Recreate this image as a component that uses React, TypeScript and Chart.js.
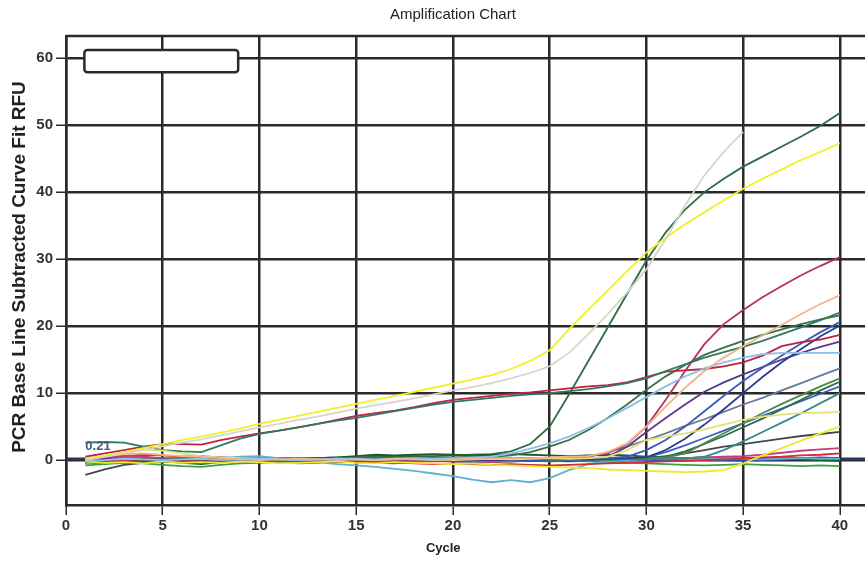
import React, { useEffect, useRef } from "react";
import { Chart, registerables } from "chart.js";

Chart.register(...registerables);

const cycles = [1, 2, 3, 4, 5, 6, 7, 8, 9, 10, 11, 12, 13, 14, 15, 16, 17, 18, 19, 20, 21, 22, 23, 24, 25, 26, 27, 28, 29, 30, 31, 32, 33, 34, 35, 36, 37, 38, 39, 40];
const xTickValues = [0, 5, 10, 15, 20, 25, 30, 35, 40];
const yTickValues = [0, 10, 20, 30, 40, 50, 60];

const chartTitle = "Amplification Chart";
const xTitle = "Cycle";
const yTitle = "PCR Base Line Subtracted Curve Fit RFU";
const threshold = 0.21;
const thresholdLabel = "0.21";

const yellowMain = [0.2, 0.7, 1.2, 1.8, 2.4, 3.0, 3.5, 4.1, 4.7, 5.4, 6.0, 6.6, 7.2, 7.8, 8.4, 9.0, 9.6, 10.2, 10.8, 11.4, 12.0, 12.7, 13.6, 14.8, 16.4, 19.5, 22.5, 25.3, 28.2, 31.0, 33.2, 35.2, 37.0, 38.8, 40.5, 42.0, 43.4, 44.8, 46.0, 47.3];
const grayLate = [0.0, 0.5, 1.0, 1.5, 2.1, 2.6, 3.1, 3.7, 4.3, 4.9, 5.4, 6.0, 6.5, 7.1, 7.7, 8.2, 8.7, 9.2, 9.8, 10.4, 10.9, 11.5, 12.2, 13.0, 14.0, 16.0, 18.8, 21.8, 25.0, 28.5, 33.0, 38.0, 42.5, 46.0, 49.0, null, null, null, null, null];
const greenSteep = [-0.3, -0.2, 0.0, 0.2, -0.1, -0.3, -0.2, 0.1, 0.2, 0.1, 0.3, 0.2, 0.3, 0.4, 0.4, 0.5, 0.5, 0.6, 0.6, 0.7, 0.8, 0.9, 1.3, 2.4, 5.0, 9.8, 14.8, 19.8, 24.8, 29.8, 34.0, 37.4, 40.0, 42.0, 43.8, 45.3, 46.8, 48.3, 49.9, 51.8];
const redLinear = [0.5, 1.0, 1.5, 2.0, 2.4, 2.4, 2.3, 3.0, 3.5, 4.0, 4.4, 4.9, 5.4, 6.0, 6.6, 7.0, 7.4, 7.9, 8.5, 9.0, 9.3, 9.6, 9.9, 10.1, 10.4, 10.7, 11.0, 11.2, 11.6, 12.4, 13.2, 13.4, 13.6, 14.0, 14.6, 15.6, 17.0, 17.6, 18.0, 18.7];
const tealLinear = [2.6, 2.7, 2.6, 2.0, 1.5, 1.3, 1.2, 2.2, 3.2, 3.9, 4.4, 4.9, 5.4, 5.9, 6.3, 6.8, 7.3, 7.8, 8.3, 8.7, 9.0, 9.3, 9.6, 9.8, 10.0, 10.3, 10.6, 11.0, 11.5, 12.2, 13.3, 14.3, 15.3, 16.1, 16.9, 17.8, 18.8, 19.8, 20.9, 22.0];
const magentaRise = [0.0, 0.1, -0.1, 0.2, 0.0, -0.2, 0.1, 0.0, 0.1, 0.2, 0.0, -0.1, 0.0, 0.1, 0.0, -0.1, 0.1, 0.0, 0.1, 0.0, 0.2, 0.1, 0.2, 0.3, 0.3, 0.4, 0.6, 1.0, 2.4, 5.0, 9.0, 13.3, 17.3, 20.3, 22.4, 24.3, 26.0, 27.6, 29.0, 30.3];
const peachRise = [0.3, 0.6, 0.9, 1.0, 0.8, 0.6, 0.5, 0.3, 0.1, 0.0, 0.1, 0.2, 0.1, 0.0, 0.1, 0.0, 0.2, 0.1, 0.0, 0.1, 0.2, 0.2, 0.3, 0.3, 0.4, 0.5, 0.6, 1.2, 2.5, 5.0, 8.0, 10.8, 13.3, 15.3, 17.0, 18.6, 20.2, 21.8, 23.3, 24.6];
const greenRise = [0.1, 0.0, -0.2, 0.0, 0.1, 0.0, -0.1, 0.1, 0.2, 0.1, 0.0, 0.2, 0.1, 0.2, 0.3, 0.2, 0.3, 0.3, 0.4, 0.4, 0.5, 0.5, 0.7, 1.2, 2.0, 3.0, 4.5, 6.3, 8.3, 10.5, 12.5, 14.2, 15.7, 16.8, 17.8, 18.7, 19.5, 20.3, 21.0, 21.6];
const lightBlueRise = [-0.1, 0.0, 0.2, 0.1, 0.0, 0.1, 0.2, 0.0, 0.1, 0.2, 0.1, 0.0, 0.1, 0.2, 0.2, 0.1, 0.2, 0.3, 0.2, 0.3, 0.4, 0.5, 1.0, 1.7, 2.5, 3.5, 4.8, 6.2, 7.8, 9.4, 11.0, 12.5, 13.7, 14.6, 15.3, 15.8, 16.0, 16.0, 16.0, 16.0];
const blueRise = [0.0, -0.2, -0.1, 0.1, 0.0, -0.1, 0.1, 0.2, 0.0, -0.1, 0.0, 0.1, 0.0, -0.2, -0.1, 0.0, 0.1, 0.0, -0.1, 0.0, 0.1, 0.2, 0.1, 0.0, 0.1, 0.2, 0.2, 0.3, 0.5, 1.5, 3.0, 5.0, 7.3, 9.6, 11.8, 13.8, 15.6, 17.4, 19.1, 20.6];
const navyRise = [-0.2, 0.0, 0.1, 0.0, -0.1, 0.0, 0.1, 0.0, -0.1, 0.0, 0.1, 0.2, 0.1, 0.0, -0.1, 0.0, 0.1, 0.0, 0.1, 0.2, 0.1, 0.0, 0.1, 0.0, 0.1, 0.2, 0.1, 0.2, 0.3, 0.4, 1.5, 3.2, 5.3, 7.6, 10.0, 12.4, 14.6, 16.6, 18.5, 20.1];
const purpleRise = [0.1, 0.2, 0.0, -0.1, 0.0, 0.1, 0.0, -0.1, 0.0, 0.1, 0.0, -0.1, -0.2, -0.1, 0.0, 0.1, 0.0, 0.1, 0.0, -0.1, 0.0, 0.1, 0.0, 0.1, 0.2, 0.1, 0.2, 0.5, 2.0, 4.2, 6.3, 8.3, 10.2, 11.6, 12.8, 13.9, 15.0, 16.0, 16.9, 17.7];
const slateRise = [0.0, 0.1, 0.2, 0.1, 0.0, -0.1, 0.0, 0.1, 0.0, 0.1, 0.2, 0.1, 0.0, 0.1, 0.0, -0.1, 0.0, 0.1, 0.2, 0.1, 0.0, 0.1, 0.2, 0.1, 0.2, 0.3, 0.5, 1.2, 2.0, 3.0, 4.0, 5.1, 6.1, 7.2, 8.3, 9.3, 10.4, 11.5, 12.6, 13.7];
const greenRise2 = [-0.1, 0.0, 0.1, 0.0, -0.2, -0.1, 0.0, 0.1, 0.0, -0.1, 0.0, 0.1, 0.0, 0.1, 0.2, 0.1, 0.0, 0.1, 0.0, -0.1, 0.0, 0.1, 0.0, 0.1, 0.0, 0.1, 0.2, 0.1, 0.2, 0.3, 0.4, 1.0, 2.5, 4.0, 5.5, 7.0, 8.4, 9.7, 11.0, 12.2];
const greenRise3 = [0.2, 0.1, 0.0, -0.1, 0.0, 0.1, 0.2, 0.1, 0.0, 0.1, 0.0, -0.1, 0.0, 0.1, 0.0, 0.1, 0.2, 0.1, 0.0, 0.1, 0.2, 0.1, 0.0, 0.1, 0.2, 0.1, 0.2, 0.3, 0.2, 0.3, 0.5, 1.3, 2.4, 3.6, 4.9, 6.2, 7.6, 9.0, 10.4, 11.7];
const blueRise2 = [-0.1, -0.2, -0.1, 0.0, 0.1, 0.0, -0.1, 0.0, 0.1, 0.0, -0.1, -0.2, -0.1, 0.0, 0.1, 0.0, -0.1, 0.0, 0.1, 0.0, 0.1, 0.0, 0.1, 0.2, 0.1, 0.0, 0.1, 0.2, 0.3, 0.4, 1.2, 2.2, 3.3, 4.4, 5.5, 6.6, 7.7, 8.8, 9.9, 11.0];
const tealRise = [0.1, 0.0, -0.1, 0.0, 0.1, 0.2, 0.1, 0.0, 0.1, 0.0, -0.1, 0.0, 0.1, 0.0, 0.1, 0.2, 0.1, 0.0, -0.1, 0.0, 0.1, 0.0, 0.1, 0.0, -0.1, 0.0, 0.1, 0.0, 0.1, 0.2, 0.1, 0.2, 0.5, 1.5, 2.8, 4.2, 5.6, 7.0, 8.5, 10.0];
const paleYellowRise = [0.2, 0.6, 1.2, 1.6, 1.4, 1.0, 0.6, 0.4, 0.3, 0.2, 0.1, 0.0, 0.1, 0.2, 0.1, 0.0, 0.1, 0.2, 0.1, 0.0, 0.1, 0.2, 0.1, 0.2, 0.3, 0.2, 0.3, 0.5, 1.5, 3.0, 3.5, 4.0, 4.6, 5.3, 6.0, 6.5, 6.8, 7.0, 7.1, 7.2];
const yellowRise = [-0.2, -0.4, -0.3, -0.5, -0.2, -0.4, -0.3, -0.4, -0.2, -0.3, -0.5, -0.4, -0.3, -0.2, -0.4, -0.5, -0.3, -0.4, -0.5, -0.6, -0.5, -0.7, -0.8, -0.9, -1.0, -1.1, -1.2, -1.4, -1.5, -1.6, -1.7, -1.8, -1.7, -1.5, -0.5, 0.7, 1.8, 2.9, 4.0, 5.0];
const darkGrayRise = [-2.2, -1.4, -0.7, -0.4, -0.2, -0.3, -0.1, 0.0, -0.2, -0.1, 0.0, 0.1, 0.0, -0.1, 0.0, 0.1, 0.2, 0.1, 0.0, -0.1, 0.0, 0.1, 0.0, -0.1, -0.2, -0.1, 0.0, 0.1, 0.2, 0.3, 0.6, 1.0, 1.5, 2.0, 2.4, 2.8, 3.2, 3.6, 3.9, 4.2];
const magentaFlat = [0.3, 0.5, 0.7, 0.5, 0.3, 0.2, 0.4, 0.3, 0.1, 0.0, -0.1, 0.0, 0.1, 0.0, -0.2, -0.1, 0.0, 0.1, 0.0, -0.1, -0.2, -0.3, -0.2, -0.1, 0.0, 0.1, 0.2, 0.1, 0.2, 0.3, 0.4, 0.3, 0.4, 0.5, 0.6, 0.8, 1.1, 1.4, 1.6, 1.8];
const redFlat = [0.2, 0.4, 0.6, 0.8, 0.7, 0.5, 0.6, 0.4, 0.3, 0.2, 0.1, 0.0, -0.1, -0.2, -0.3, -0.4, -0.3, -0.5, -0.6, -0.5, -0.6, -0.7, -0.6, -0.7, -0.8, -0.7, -0.6, -0.5, -0.4, -0.3, -0.2, -0.1, 0.0, 0.1, 0.2, 0.4, 0.5, 0.7, 0.8, 1.0];
const cyanDip = [-0.5, -0.3, 0.0, 0.2, 0.0, -0.1, 0.1, 0.3, 0.5, 0.6, 0.3, 0.0, -0.3, -0.6, -0.8, -1.0, -1.3, -1.6, -2.0, -2.4, -2.9, -3.3, -3.0, -3.3, -2.7, -1.5, -0.6, -0.2, 0.0, 0.1, 0.2, 0.1, 0.2, 0.3, 0.2, 0.1, 0.2, 0.3, 0.2, 0.2];
const navyFlat = [0.1, 0.0, -0.1, 0.2, 0.1, 0.0, 0.2, 0.3, 0.1, 0.2, 0.0, 0.1, 0.2, 0.1, 0.0, -0.1, 0.0, 0.1, 0.2, 0.1, 0.0, 0.1, 0.2, 0.3, 0.2, 0.1, 0.0, 0.1, 0.2, 0.3, 0.2, 0.1, 0.2, 0.3, 0.2, 0.1, 0.2, 0.3, 0.2, 0.3];
const blueFlat = [-0.3, -0.2, 0.0, -0.1, -0.3, -0.2, 0.0, 0.1, -0.1, -0.2, -0.3, -0.1, 0.0, -0.2, -0.3, -0.4, -0.2, -0.1, 0.0, -0.2, -0.3, -0.1, 0.0, 0.1, -0.1, -0.2, -0.1, 0.0, 0.1, 0.0, -0.1, 0.0, 0.1, 0.0, -0.1, 0.0, 0.1, 0.2, 0.1, 0.0];
const darkGreenFlat = [-0.5, -0.4, -0.3, -0.1, -0.2, -0.4, -0.6, -0.3, -0.1, 0.0, 0.2, 0.1, 0.3, 0.4, 0.6, 0.8, 0.7, 0.8, 0.9, 0.8, 0.7, 0.8, 0.9, 0.8, 0.7, 0.6, 0.7, 0.8, 0.7, 0.5, 0.4, 0.3, 0.4, 0.3, 0.2, 0.1, 0.2, 0.1, 0.0, -0.1];
const greenFlat = [-0.8, -0.6, -0.4, -0.5, -0.7, -0.9, -1.0, -0.7, -0.5, -0.4, -0.3, -0.5, -0.4, -0.2, -0.3, -0.1, 0.0, -0.2, -0.1, 0.0, -0.2, -0.3, -0.2, -0.1, 0.0, -0.1, -0.2, -0.3, -0.4, -0.5, -0.6, -0.7, -0.8, -0.7, -0.6, -0.7, -0.8, -0.9, -0.8, -0.9];
const purpleFlat = [0.0, 0.2, 0.3, 0.2, 0.1, 0.3, 0.5, 0.4, 0.2, 0.1, 0.0, -0.1, -0.2, -0.3, -0.2, -0.4, -0.5, -0.3, -0.2, -0.1, 0.0, -0.1, -0.2, -0.1, 0.0, 0.1, 0.0, -0.1, 0.0, 0.1, 0.2, 0.1, 0.0, 0.1, 0.2, 0.3, 0.2, 0.3, 0.4, 0.3];

const series = [
  { label: "A1", color: "#d6d6c8", values: grayLate },
  { label: "A2", color: "#f0f02a", values: yellowMain },
  { label: "A3", color: "#f2b48c", values: peachRise },
  { label: "A4", color: "#8ec0e8", values: lightBlueRise },
  { label: "A5", color: "#e6e070", values: paleYellowRise },
  { label: "A6", color: "#efe830", values: yellowRise },
  { label: "A7", color: "#2f7a60", values: tealLinear },
  { label: "A8", color: "#c42040", values: redLinear },
  { label: "A9", color: "#b5305e", values: magentaRise },
  { label: "A10", color: "#3a7048", values: greenRise },
  { label: "A11", color: "#3a5ab8", values: blueRise },
  { label: "A12", color: "#283c90", values: navyRise },
  { label: "A13", color: "#5a3a8a", values: purpleRise },
  { label: "A14", color: "#6a7a9a", values: slateRise },
  { label: "A15", color: "#4a8a4a", values: greenRise2 },
  { label: "A16", color: "#2e6a40", values: greenRise3 },
  { label: "A17", color: "#4060c0", values: blueRise2 },
  { label: "A18", color: "#3a8a8a", values: tealRise },
  { label: "A19", color: "#404848", values: darkGrayRise },
  { label: "A20", color: "#c04080", values: magentaFlat },
  { label: "A21", color: "#d03030", values: redFlat },
  { label: "A22", color: "#60b0d0", values: cyanDip },
  { label: "A23", color: "#40a040", values: greenFlat },
  { label: "A24", color: "#7030a0", values: purpleFlat },
  { label: "A25", color: "#1e5a30", values: darkGreenFlat },
  { label: "A26", color: "#2050c0", values: blueFlat },
  { label: "A27", color: "#1a2a80", values: navyFlat },
  { label: "A28", color: "#2e6b45", values: greenSteep },
];

const FONT = '"Liberation Sans", Arial, sans-serif';
const GRID = "#2a2a2a";

export default function App() {
  const ref = useRef<HTMLCanvasElement>(null);

  useEffect(() => {
    document.body.style.margin = "0";
    const canvas = ref.current;
    if (!canvas) return;

    const decor = {
      id: "decor",
      beforeDatasetsDraw(chart: any) {
        const { ctx, chartArea, scales } = chart;
        ctx.save();
        ctx.strokeStyle = GRID;
        ctx.lineWidth = 2.5;
        ctx.beginPath();
        ctx.moveTo(chartArea.left, chartArea.top);
        ctx.lineTo(chartArea.right, chartArea.top);
        ctx.stroke();
        const ty = scales.y.getPixelForValue(threshold);
        ctx.strokeStyle = "#26355e";
        ctx.lineWidth = 2.5;
        ctx.beginPath();
        ctx.moveTo(chartArea.left, ty);
        ctx.lineTo(chartArea.right, ty);
        ctx.stroke();
        ctx.restore();
      },
      afterDraw(chart: any) {
        const { ctx, scales } = chart;
        const x = scales.x;
        const y = scales.y;
        ctx.save();
        const bx1 = x.getPixelForValue(0.95);
        const bx2 = x.getPixelForValue(8.9);
        const by1 = y.getPixelForValue(61.2);
        const by2 = y.getPixelForValue(57.9);
        ctx.fillStyle = "#ffffff";
        ctx.strokeStyle = GRID;
        ctx.lineWidth = 2.5;
        ctx.beginPath();
        (ctx as any).roundRect(bx1, by1, bx2 - bx1, by2 - by1, 3);
        ctx.fill();
        ctx.stroke();
        ctx.fillStyle = "#4a5a7a";
        ctx.font = `bold 13px ${FONT}`;
        ctx.textAlign = "left";
        ctx.textBaseline = "middle";
        ctx.fillText(thresholdLabel, x.getPixelForValue(1.0), y.getPixelForValue(2.0));
        ctx.fillStyle = "#222";
        ctx.font = `15px ${FONT}`;
        ctx.textAlign = "center";
        ctx.fillText(chartTitle, x.getPixelForValue(20.0), 15);
        ctx.font = `bold 13px ${FONT}`;
        ctx.fillText(xTitle, x.getPixelForValue(19.5), 548);
        ctx.translate(20, 267);
        ctx.rotate(-Math.PI / 2);
        ctx.font = `bold 19px ${FONT}`;
        ctx.fillText(yTitle, 0, 0);
        ctx.restore();
      },
    };

    const chart = new Chart(canvas, {
      type: "line",
      data: {
        datasets: series.map((s) => ({
          label: s.label,
          data: s.values.map((v, i) => ({ x: cycles[i], y: v })),
          borderColor: s.color,
          backgroundColor: s.color,
          borderWidth: 1.8,
          pointRadius: 0,
          fill: false,
          tension: 0,
        })),
      },
      options: {
        responsive: false,
        animation: false,
        layout: { padding: { top: 36, left: 0, right: 0, bottom: 0 } },
        plugins: {
          legend: { display: false },
          title: { display: false },
          tooltip: { enabled: false },
        },
        scales: {
          x: {
            type: "linear",
            min: 0,
            max: 41.3,
            afterFit(scale: any) {
              scale.height = 57;
            },
            afterBuildTicks(scale: any) {
              scale.ticks = xTickValues.map((v) => ({ value: v }));
            },
            ticks: {
              color: "#333",
              font: { family: FONT, size: 15, weight: "bold" },
              padding: 2,
              maxRotation: 0,
              autoSkip: false,
            },
            grid: {
              color: GRID,
              lineWidth: 2.5,
              tickLength: 10,
              tickWidth: 1.5,
              tickColor: GRID,
            },
            border: { display: true, color: GRID, width: 2.5 },
          },
          y: {
            type: "linear",
            min: -6.7,
            max: 63.3,
            afterFit(scale: any) {
              scale.width = 66;
            },
            afterBuildTicks(scale: any) {
              scale.ticks = yTickValues.map((v) => ({ value: v }));
            },
            ticks: {
              color: "#333",
              font: { family: FONT, size: 15, weight: "bold" },
              padding: 3,
              autoSkip: false,
            },
            grid: {
              color: GRID,
              lineWidth: 2.5,
              tickLength: 10,
              tickWidth: 1.5,
              tickColor: GRID,
            },
            border: { display: true, color: GRID, width: 2.5 },
          },
        },
      },
      plugins: [decor],
    });

    return () => chart.destroy();
  }, []);

  return (
    <div style={{ width: 865, height: 562 }}>
      <canvas ref={ref} width={865} height={562} style={{ display: "block" }} />
    </div>
  );
}
